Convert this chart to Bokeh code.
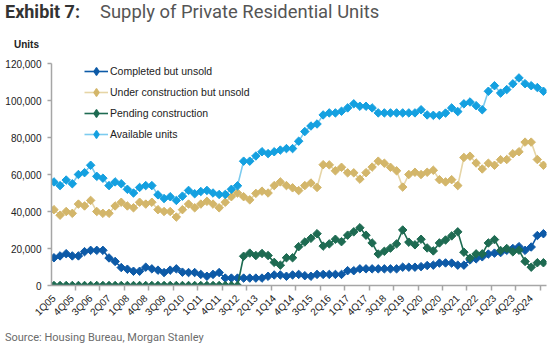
from math import pi
from bokeh.plotting import figure
from bokeh.layouts import column
from bokeh.models import FixedTicker, Range1d, NumeralTickFormatter, Div
from bokeh.embed import file_html
from bokeh.resources import INLINE

# ---- data (thousands of units), quarterly 1Q05 .. 1Q25 ----
completed = [15, 16, 17.2, 16, 16, 18.3, 19, 19, 19, 14.9,
             13, 9.7, 8.8, 7.7, 7.7, 9.9, 9, 8.3, 7, 8.3,
             9, 7.2, 7, 7, 6, 5, 6, 7, 4, 4,
             4, 4, 4, 4, 4, 5, 5.7, 5.7, 5, 5.7,
             6, 5.3, 5, 6, 6, 6, 6, 6, 8, 8,
             9, 9, 9, 9, 9, 9, 9, 9.9, 9.9, 9.9,
             10.2, 10.8, 11, 12.1, 12.2, 12.1, 11, 11, 13.8, 14.4,
             15.5, 17, 17.5, 17.8, 19, 20, 21, 19, 20.8, 27,
             28]
under_construction = [41, 38, 40, 39, 44, 43, 46, 40, 39, 39,
                      43, 45, 43, 42, 45, 44, 45, 41, 40, 40,
                      37, 41, 44, 42, 44, 45.5, 44, 42, 45, 48,
                      50, 48, 46.3, 49.8, 51, 50, 54, 56, 54, 52.8,
                      51.3, 54, 55.4, 53, 65.3, 65.2, 62, 63.9, 60.9, 60.9,
                      57.5, 61, 64, 67.2, 66.1, 63.9, 62, 53.2, 60, 61.2,
                      60, 61.2, 62.3, 57.2, 56, 57.2, 54, 69.2, 69.9, 66.2,
                      63, 66.1, 65, 68, 68.1, 71.2, 72.3, 77.5, 77.5, 68.1,
                      65]
pending = [0, 0, 0, 0, 0, 0, 0, 0, 0, 0,
           0, 0, 0, 0, 0, 0, 0, 0, 0, 0,
           0, 0, 0, 0, 0, 0, 0, 0, 0, 0,
           0, 15.8, 17.5, 16.2, 17.3, 16.2, 12.5, 11, 15, 15,
           21, 23.5, 25.5, 28, 21.3, 22.5, 25, 23.7, 27.2, 29,
           31.2, 27.2, 23, 17, 18.5, 20.2, 22.5, 30, 23.4, 22,
           25, 20.3, 18.7, 23, 24.6, 26.8, 29, 18, 14.8, 17.1,
           17.1, 23, 24.8, 18.9, 20, 18.2, 19.1, 13, 9.9, 12.3,
           12.3]
available = [56, 54, 57, 55, 60, 61, 65, 59, 58, 54,
             56, 55, 52, 50, 53, 54, 54, 49, 47, 48,
             46, 48.3, 51.4, 49.6, 50.8, 51.4, 50, 49.2, 49.2, 52,
             53.9, 67.2, 67.2, 70, 72.3, 71.3, 72.3, 73.2, 74, 74,
             78, 83.2, 86.2, 87.3, 92.2, 93.3, 93.3, 94.2, 96, 98.2,
             96.9, 96.9, 96, 93.3, 93.3, 93.3, 93.3, 93.3, 93.3, 93.3,
             95, 92.2, 92, 92, 93.2, 96, 94, 98.2, 99.2, 97.2,
             95, 105, 108, 104, 105.9, 109, 112.2, 109.1, 108, 107,
             105]

tick_labels = ["1Q05", "4Q05", "3Q06", "2Q07", "1Q08", "4Q08", "3Q09", "2Q10",
               "1Q11", "4Q11", "3Q12", "2Q13", "1Q14", "4Q14", "3Q15", "2Q16",
               "1Q17", "4Q17", "3Q18", "2Q19", "1Q20", "4Q20", "3Q21", "2Q22",
               "1Q23", "4Q23", "3Q24"]
y_ticks = [0, 20000, 40000, 60000, 80000, 100000, 120000]

n = len(available)
xs = list(range(n))
label_pos = list(range(0, 3 * len(tick_labels), 3))
year_bounds = [3.5 + 4 * k for k in range(20)]

SANS = "Liberation Sans"
AXIS_GRAY = "#a6a6a6"

HEAD_H, FOOT_H = 55, 30
FIG_H = 354 - HEAD_H - FOOT_H

p = figure(width=550, height=FIG_H, x_range=Range1d(-0.4, 80.5), y_range=Range1d(0, 120000),
           output_backend="svg", toolbar_location=None,
           min_border_left=51, min_border_right=4, min_border_top=63 - HEAD_H,
           min_border_bottom=FIG_H - (285 - HEAD_H))
p.xgrid.visible = False
p.ygrid.visible = False
p.outline_line_color = None
p.background_fill_color = "white"
p.border_fill_color = "white"

series = [
    ("Completed but unsold", completed, "#0d5aa7", "#0d5aa7"),
    ("Under construction but unsold", under_construction, "#e6d5a6", "#d3b66a"),
    ("Pending construction", pending, "#1e6b52", "#1e6b52"),
    ("Available units", available, "#7ccbef", "#14a0e0"),
]
for name, vals, lc, mc in series:
    ys = [v * 1000 for v in vals]
    p.line(xs, ys, line_color=lc, line_width=1.6, legend_label=name)
    p.scatter(xs, ys, marker="square", angle=pi / 4, size=6, fill_color=mc, line_color=mc)
    # legend-only diamond marker: a single point placed outside the visible range
    p.scatter([-50], [-50000], marker="diamond", size=8, fill_color=mc, line_color=mc,
              line_width=1.2, legend_label=name)

# y axis
p.yaxis.ticker = FixedTicker(ticks=y_ticks)
p.yaxis.formatter = NumeralTickFormatter(format="0,0")
p.yaxis.axis_line_color = AXIS_GRAY
p.yaxis.axis_line_width = 1.5
p.yaxis.major_tick_line_color = AXIS_GRAY
p.yaxis.major_tick_line_width = 1.5
p.yaxis.major_tick_out = 4
p.yaxis.major_tick_in = 0
p.yaxis.minor_tick_line_color = None
p.yaxis.major_label_standoff = 6
p.yaxis.major_label_text_font = SANS
p.yaxis.major_label_text_font_size = "10px"
p.yaxis.major_label_text_color = "#222222"

# x axis
p.xaxis.ticker = FixedTicker(ticks=label_pos, minor_ticks=year_bounds)
p.xaxis.major_label_overrides = {pos: lab for pos, lab in zip(label_pos, tick_labels)}
p.xaxis.major_label_orientation = pi / 4
p.xaxis.axis_line_color = AXIS_GRAY
p.xaxis.axis_line_width = 1.5
p.xaxis.major_tick_line_color = None
p.xaxis.major_tick_out = 0
p.xaxis.major_tick_in = 0
p.xaxis.minor_tick_line_color = AXIS_GRAY
p.xaxis.minor_tick_line_width = 1.5
p.xaxis.minor_tick_out = 5
p.xaxis.minor_tick_in = 0
p.xaxis.major_label_standoff = 6
p.xaxis.major_label_text_font = SANS
p.xaxis.major_label_text_font_size = "10px"
p.xaxis.major_label_text_color = "#222222"

# legend (location = bottom-left corner of the legend, from frame bottom-left)
lg = p.legend[0]
lg.location = (33, 141)
lg.padding = 0
lg.margin = 0
lg.spacing = 1
lg.glyph_height = 20
lg.label_height = 14
lg.glyph_width = 24
lg.label_standoff = 2
lg.label_text_font = SANS
lg.label_text_font_size = "10.5px"
lg.label_text_color = "#222222"
lg.background_fill_alpha = 0
lg.border_line_color = None

header = Div(width=550, height=HEAD_H, margin=0, text=(
    '<div style="position:relative;width:550px;height:%dpx;">'
    '<span style="position:absolute;left:5px;top:0px;font-family:Roboto;font-size:18px;'
    'font-weight:bold;color:#333333;line-height:24px;white-space:nowrap;">Exhibit 7:</span>'
    '<span style="position:absolute;left:100px;top:0px;font-family:Roboto;font-size:18.4px;'
    'color:#555555;line-height:24px;white-space:nowrap;">Supply of Private Residential Units</span>'
    '<span style="position:absolute;left:14px;top:38px;font-family:\'Liberation Sans\';font-size:10px;'
    'font-weight:bold;color:#222222;line-height:14px;white-space:nowrap;">Units</span>'
    '</div>' % HEAD_H))
footer = Div(width=550, height=FOOT_H, margin=0, text=(
    '<div style="position:relative;width:550px;height:%dpx;">'
    '<span style="position:absolute;left:5px;top:7px;font-family:Roboto;font-size:11px;'
    'color:#6b6b6b;line-height:14px;white-space:nowrap;">Source: Housing Bureau, Morgan Stanley</span>'
    '</div>' % FOOT_H))

layout = column(header, p, footer, spacing=0)
open("out.html", "w").write(file_html(layout, INLINE))
